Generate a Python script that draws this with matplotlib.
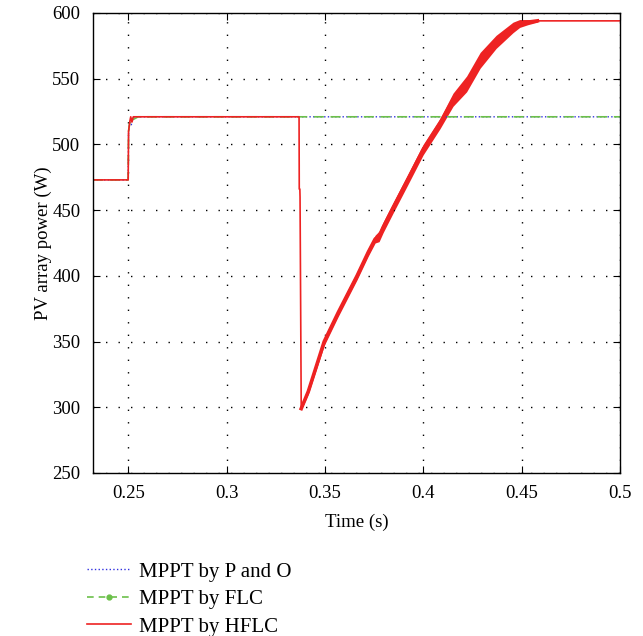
import matplotlib
matplotlib.use("Agg")
import matplotlib.pyplot as plt
from matplotlib.lines import Line2D

plt.rcParams['font.family'] = ['Liberation Serif', 'DejaVu Serif']

# Time (s) and PV power (W)
t_hflc = [0.232, 0.2499, 0.2501, 0.2508, 0.2512, 0.2518, 0.2525, 0.255, 0.3368, 0.3369, 0.3372, 0.3373,
          0.3379, 0.3415, 0.3496, 0.3567, 0.3663, 0.372, 0.3755, 0.3775, 0.3796, 0.3847, 0.392,
          0.3999, 0.4085, 0.4151, 0.422, 0.4289, 0.437, 0.4456, 0.449, 0.453, 0.458, 0.5]
p_hflc = [473, 473, 510, 518, 521, 517, 521, 521, 521, 466, 466, 460,
          299, 312, 350, 372, 400, 418, 428, 430, 437, 452, 473,
          496, 516, 534, 546, 564, 578, 589, 592, 593, 594, 594]
# half-width of the ripple band on the ramp (W), same order as the ramp points
ripple = [1, 2, 3, 3, 3, 3, 3, 4, 4, 4, 4, 4, 4, 5, 6, 6, 5, 4, 3, 2, 1]

t_flc = [0.232, 0.2499, 0.2501, 0.2508, 0.2512, 0.2525, 0.255, 0.5]
p_flc = [473, 473, 510, 518, 521, 519, 521, 521]

t_po = [0.232, 0.2499, 0.2501, 0.2508, 0.2515, 0.2522, 0.253, 0.5]
p_po = [473, 473, 510, 517, 515, 519, 521, 521]

labels = ['MPPT by P and O', 'MPPT by FLC', 'MPPT by HFLC']
xticks = [0.25, 0.3, 0.35, 0.4, 0.45, 0.5]
yticks = [250, 300, 350, 400, 450, 500, 550, 600]

fig = plt.figure(figsize=(6.43, 6.36), dpi=100)
ax = fig.add_axes([0.1446, 0.2563, 0.8196, 0.7233])

ax.plot(t_po, p_po, color='#3030e0', linestyle=':', linewidth=1.0)
ax.plot(t_flc, p_flc, color='#6cc04a', linestyle=(0, (6, 4)), linewidth=1.2)

rs = 12
rt = t_hflc[rs:rs + len(ripple)]
rp = p_hflc[rs:rs + len(ripple)]
ax.fill_between(rt, [p - r for p, r in zip(rp, ripple)], [p + r for p, r in zip(rp, ripple)],
                color='#ee2222', linewidth=0)
ax.plot(rt, rp, color='#ee2222', linewidth=2.6)
ax.plot(t_hflc, p_hflc, color='#ee2222', linewidth=1.2)

ax.set_xlim(0.232, 0.5)
ax.set_ylim(250, 600)
ax.set_xticks(xticks)
ax.set_xticklabels([f"{v:g}" for v in xticks])
ax.set_yticks(yticks)
ax.tick_params(direction='in', top=True, right=True, labelsize=13.5, length=5, pad=9)
ax.grid(True, color='black', linestyle=(0, (1, 8)), linewidth=1.0)
for s in ax.spines.values():
    s.set_linewidth(1.0)
ax.set_xlabel('Time (s)', fontsize=13.5, labelpad=8)
ax.set_ylabel('PV array power (W)', fontsize=13.5, labelpad=0)

h1 = Line2D([0, 1], [0, 0], color='#3030e0', linestyle=':', linewidth=1.0)
h2 = Line2D([0, 0.5, 1], [0, 0, 0], color='#6cc04a', linestyle=(0, (4, 3)), linewidth=1.2,
            marker='o', markersize=3.5, markevery=[1])
h3 = Line2D([0, 1], [0, 0], color='#ee2222', linewidth=1.2)
fig.legend([h1, h2, h3], labels, loc='upper left', bbox_to_anchor=(0.113, 0.139),
           frameon=False, fontsize=15, handlelength=2.1, labelspacing=0.38, handletextpad=0.4,
           borderpad=0.2)

fig.savefig('out.png', dpi=100)
